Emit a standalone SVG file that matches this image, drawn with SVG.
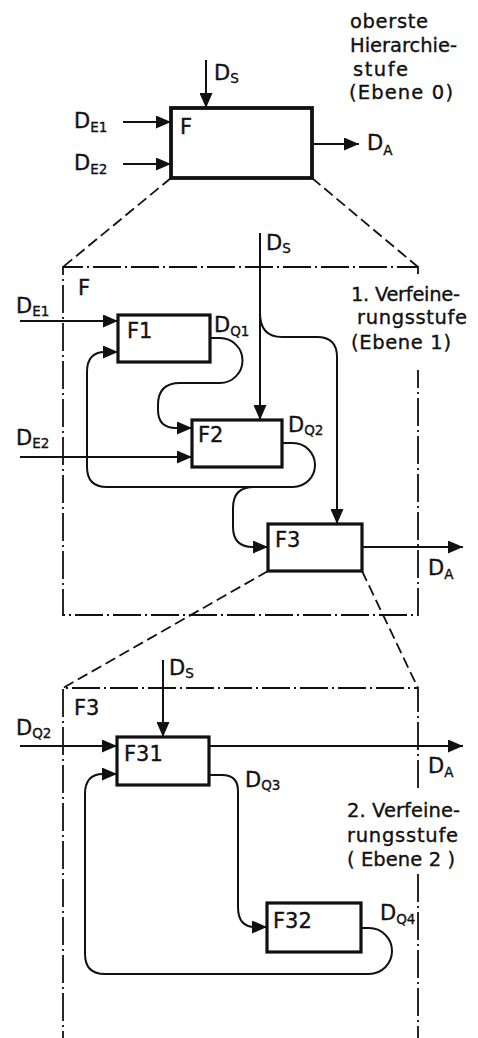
<svg xmlns="http://www.w3.org/2000/svg" width="478" height="1038" viewBox="0 0 478 1038">
<style>
text{font-family:"DejaVu Sans","Liberation Sans",sans-serif;fill:#111;stroke:#111;stroke-width:0.35;}
.lb{font-size:21px;}
.sb{font-size:13.5px;}
.t{font-size:19.5px;}
.box{fill:#fff;stroke:#111;stroke-width:3.2;}
.box0{fill:#fff;stroke:#111;stroke-width:3.8;}
.c{fill:none;stroke:#111;stroke-width:2;}
.a{marker-end:url(#ah);}
.dash{fill:none;stroke:#111;stroke-width:1.8;stroke-dasharray:11 5;}
.dd{fill:none;stroke:#111;stroke-width:1.8;stroke-dasharray:28 4 2 4;}
</style>
<defs>
<marker id="ah" markerUnits="userSpaceOnUse" markerWidth="16" markerHeight="13" refX="15" refY="6.5" orient="auto">
<path d="M0,0 L15,6.5 L0,13 z" fill="#111"/>
</marker>
</defs>
<rect width="478" height="1038" fill="#fff"/>

<g id="frames">
<path class="dash" d="M171,178 L63,267 M312,178 L418,267"/>
<path class="dd" d="M418,274 L418,267 L63,267 L63,615 L418,615 L418,370"/>
<path class="dash" d="M268,571 L63,688 M362,571 L418,688"/>
<path class="dd" d="M418,788 L418,688 L63,688 L63,1038"/>
<path class="dd" d="M418,874 L418,1038"/>
</g>

<g id="connectors">
<path class="c a" d="M206,60 L206,108"/>
<path class="c a" d="M123,122 L171,122"/>
<path class="c a" d="M123,164 L171,164"/>
<path class="c a" d="M312,144 L359,144"/>
<path class="c a" d="M20,321 L118,321"/>
<path class="c a" d="M20,457 L192,457"/>
<path class="c a" d="M260,233 L260,420"/>
<path class="c a" d="M260,313 Q260,337 282,337 L317,337 Q337,337 337,357 L337,524"/>
<path class="c a" d="M210,338 L220,338 A22.5,22.5 0 0 1 220,383 L180,383 Q158,383 158,405 L158,410 Q158,428 176,428 L192,428"/>
<path class="c a" d="M282,443 L293,443 A22,22 0 0 1 293,487 L107,487 Q87,487 87,467 L87,372 Q87,352 105,352 L118,352"/>
<path class="c a" d="M254,487 Q233,487 233,508 L233,527 Q233,547 253,547 L268,547"/>
<path class="c a" d="M362,547 L463,547"/>
<path class="c a" d="M163,660 L163,737"/>
<path class="c a" d="M20,746 L117,746"/>
<path class="c a" d="M209,746 L463,746"/>
<path class="c a" d="M209,775 L222,775 Q238,775 238,791 L238,907 Q238,927 255,927 L267,927"/>
<path class="c a" d="M361,928 L369,928 A23,23 0 0 1 369,974 L105,974 Q85,974 85,954 L85,794 Q85,774 103,774 L117,774"/>
</g>

<g id="node-F">
<rect class="box0" x="171" y="108" width="141" height="70"/>
<text class="lb" x="180" y="134">F</text>
</g>
<g id="node-F1">
<rect class="box" x="118" y="315" width="92" height="47"/>
<text class="lb" x="127" y="338">F1</text>
</g>
<g id="node-F2">
<rect class="box" x="192" y="420" width="90" height="47"/>
<text class="lb" x="198" y="442">F2</text>
</g>
<g id="node-F3">
<rect class="box" x="268" y="524" width="94" height="47"/>
<text class="lb" x="275" y="547">F3</text>
</g>
<g id="node-F31">
<rect class="box" x="117" y="737" width="92" height="48"/>
<text class="lb" x="124" y="761">F31</text>
</g>
<g id="node-F32">
<rect class="box" x="267" y="903" width="94" height="49"/>
<text class="lb" x="273" y="928">F32</text>
</g>

<g id="labels">
<text class="lb" x="214" y="80">D<tspan class="sb" dy="3">S</tspan></text>
<text class="lb" x="74" y="128">D<tspan class="sb" dy="4">E1</tspan></text>
<text class="lb" x="74" y="170">D<tspan class="sb" dy="4">E2</tspan></text>
<text class="lb" x="367" y="150">D<tspan class="sb" dy="5">A</tspan></text>

<text class="t" x="350" y="28" textLength="78" lengthAdjust="spacing">oberste</text>
<text class="t" x="350" y="52" textLength="107" lengthAdjust="spacing">Hierarchie-</text>
<text class="t" x="353" y="76" textLength="55" lengthAdjust="spacing">stufe</text>
<text class="t" x="349" y="99" textLength="104" lengthAdjust="spacing">(Ebene 0)</text>

<text class="lb" x="78" y="295">F</text>
<text class="lb" x="266" y="250">D<tspan class="sb" dy="3">S</tspan></text>
<text class="lb" x="16" y="313">D<tspan class="sb" dy="3">E1</tspan></text>
<text class="lb" x="214" y="332">D<tspan class="sb" dy="4">Q1</tspan></text>
<text class="lb" x="288" y="432">D<tspan class="sb" dy="3">Q2</tspan></text>
<text class="lb" x="16" y="445">D<tspan class="sb" dy="3">E2</tspan></text>
<text class="lb" x="428" y="575">D<tspan class="sb" dy="4">A</tspan></text>
<text class="t" x="351" y="301" textLength="109" lengthAdjust="spacing">1. Verfeine-</text>
<text class="t" x="357" y="324" textLength="110" lengthAdjust="spacing">rungsstufe</text>
<text class="t" x="351" y="349" textLength="100" lengthAdjust="spacing">(Ebene 1)</text>

<text class="lb" x="74" y="715">F3</text>
<text class="lb" x="169" y="675">D<tspan class="sb" dy="3">S</tspan></text>
<text class="lb" x="16" y="735">D<tspan class="sb" dy="3">Q2</tspan></text>
<text class="lb" x="428" y="773">D<tspan class="sb" dy="4">A</tspan></text>
<text class="lb" x="245" y="787">D<tspan class="sb" dy="3">Q3</tspan></text>
<text class="lb" x="380" y="920">D<tspan class="sb" dy="4">Q4</tspan></text>
<text class="t" x="347" y="817" textLength="113" lengthAdjust="spacing">2. Verfeine-</text>
<text class="t" x="347" y="842" textLength="111" lengthAdjust="spacing">rungsstufe</text>
<text class="t" x="347" y="866" textLength="108" lengthAdjust="spacing">( Ebene 2 )</text>
</g>
</svg>
